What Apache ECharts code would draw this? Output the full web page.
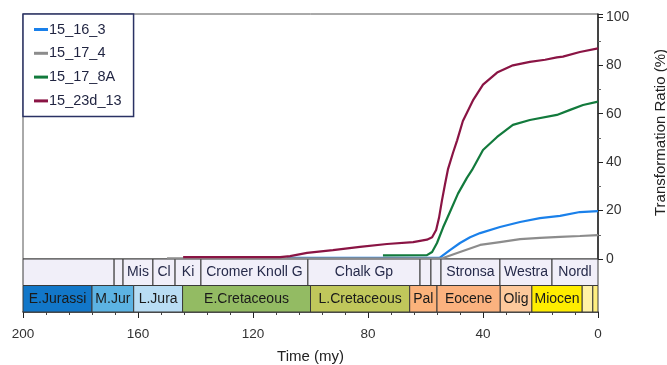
<!DOCTYPE html>
<html>
<head>
<meta charset="utf-8">
<script src="https://cdn.jsdelivr.net/npm/echarts@6/dist/echarts.min.js"></script>
<style>
  html, body { margin: 0; padding: 0; background: #ffffff; }
  #chart { width: 667px; height: 365px; }
</style>
</head>
<body>
<div id="chart"></div>
<script>
// Kerogen transformation ratio vs. geological time for four wells,
// with a lithostratigraphy strip and a chronostratigraphy strip below.

const wellNames = ['15_16_3', '15_17_4', '15_17_8A', '15_23d_13'];

// Time (my) and transformation ratio (%) for each well
const time_15_16_3 = [108.2, 55.0, 51.5, 48.0, 44.5, 41.0, 34.1, 27.1, 20.2, 13.2, 6.3, 0];
const tr_15_16_3   = [0.5, 0.6, 3.7, 6.6, 9.0, 10.7, 13.2, 15.3, 16.9, 17.8, 19.4, 19.8];

const time_15_17_4 = [149.9, 53.9, 48.0, 41.0, 34.1, 27.1, 20.2, 13.2, 6.3, 0];
const tr_15_17_4   = [0.3, 0.4, 2.9, 5.8, 7.0, 8.2, 8.7, 9.1, 9.5, 9.9];

const time_15_17_8A = [74.8, 59.5, 57.7, 56.0, 53.9, 51.5, 48.7, 45.6, 43.8, 40.0, 35.1, 29.6, 23.7, 14.3, 9.7, 5.2, 0];
const tr_15_17_8A   = [1.5, 1.6, 2.9, 6.6, 13.0, 19.4, 27.0, 33.5, 36.8, 45.0, 50.4, 55.4, 57.4, 59.5, 61.6, 63.6, 65.0];

const time_15_23d_13 = [144.3, 110.6, 107.1, 101.2, 92.2, 82.8, 73.4, 64.3, 59.5, 57.7, 56.3, 55.3, 54.3, 53.2, 52.2, 50.4, 49.0, 47.0, 43.5, 40.0, 35.1, 29.6, 23.7, 18.4, 14.3, 12.2, 6.3, 0];
const tr_15_23d_13   = [0.8, 0.8, 1.2, 2.5, 3.7, 5.0, 6.2, 7.0, 8.0, 9.0, 12.0, 17.0, 24.0, 31.0, 37.0, 44.0, 49.0, 57.0, 65.5, 72.0, 77.0, 80.0, 81.4, 82.3, 83.3, 83.6, 85.5, 87.0];

// Lithostratigraphic units (boundaries in my, oldest first)
const formationBounds = [200, 168.3, 165.2, 154.8, 147.1, 138.1, 100.9, 61.9, 58.1, 54.6, 34.1, 16, 0];
const formationNames  = ['', '', 'Mis', 'Cl', 'Ki', 'Cromer Knoll G', 'Chalk Gp', '', '', 'Stronsa', 'Westra', 'Nordl'];

// Chronostratigraphic units (boundaries in my, oldest first)
const ageBounds = [200, 176, 161.5, 144.5, 100, 65.5, 56, 34, 23, 5.5, 1.8, 0];
const ageNames  = ['E.Jurassi', 'M.Jur', 'L.Jura', 'E.Cretaceous', 'L.Cretaceous', 'Pal', 'Eocene', 'Olig', 'Miocen', '', ''];

// Time axis ticks and TR axis ticks
const timeTicks = { min: 0, max: 200, step: 40 };
const trTicks   = { min: 0, max: 100, step: 20 };

// Styling
const lineColors = ['#1a80ea', '#8c8c8c', '#127a3c', '#8a1444'];
const ageColors  = ['#1277c9', '#5cb3e3', '#b9ddf4', '#93bb63', '#c0c75b', '#fbb27b', '#fbb27f', '#fdc99c', '#ffed00', '#fff2a6', '#ffef80'];
const formationFill = '#f1eff9';
const FONT = '"Liberation Sans", Arial, sans-serif';

function pairs(t, v) { return t.map((x, i) => [x, v[i]]); }

const cells = [];
for (let i = 0; i < formationNames.length; i++) {
  cells.push({ value: [formationBounds[i], formationBounds[i + 1], 1], name: formationNames[i], fill: formationFill, tcolor: '#262a4a' });
}
for (let i = 0; i < ageNames.length; i++) {
  cells.push({ value: [ageBounds[i], ageBounds[i + 1], 0], name: ageNames[i], fill: ageColors[i], tcolor: '#1a1a1a' });
}

function renderCell(params, api) {
  const c = cells[params.dataIndex];
  const a = api.coord([api.value(0), api.value(2) + 1]);
  const b = api.coord([api.value(1), api.value(2)]);
  const x = Math.min(a[0], b[0]), y = Math.min(a[1], b[1]);
  const w = Math.abs(b[0] - a[0]), h = Math.abs(b[1] - a[1]);
  return {
    type: 'rect',
    shape: { x: x, y: y, width: w, height: h },
    style: { fill: c.fill, stroke: '#3a3a3a', lineWidth: 1 },
    textContent: {
      style: { text: c.name, fill: c.tcolor, font: '14px ' + FONT, align: 'center', verticalAlign: 'middle' }
    },
    textConfig: { position: 'inside' }
  };
}

const wellTimes = [time_15_16_3, time_15_17_4, time_15_17_8A, time_15_23d_13];
const wellTR    = [tr_15_16_3, tr_15_17_4, tr_15_17_8A, tr_15_23d_13];

const lineSeries = wellNames.map((n, i) => ({
  name: n,
  type: 'line',
  xAxisIndex: 0,
  yAxisIndex: 0,
  data: pairs(wellTimes[i], wellTR[i]),
  showSymbol: false,
  symbol: 'none',
  smooth: false,
  lineStyle: { width: 2.2, color: lineColors[i] },
  itemStyle: { color: lineColors[i] },
  z: 3 + i
}));

const chart = echarts.init(document.getElementById('chart'), null, { renderer: 'canvas' });

chart.setOption({
  backgroundColor: '#ffffff',
  animation: false,
  textStyle: { fontFamily: FONT },
  legend: {
    data: wellNames,
    orient: 'vertical',
    left: 23,
    top: 14,
    padding: [8, 12, 8, 11],
    itemGap: 8.8,
    itemWidth: 14,
    itemHeight: 3,
    icon: 'rect',
    backgroundColor: '#ffffff',
    borderColor: '#2a3264',
    borderWidth: 1.5,
    borderRadius: 0,
    textStyle: { fontSize: 14.5, color: '#1f2340', fontFamily: FONT, padding: [0, 0, 0, -4] }
  },
  grid: [
    { left: 23, right: 69, top: 14, height: 245, outerBoundsMode: 'none', containLabel: false, show: true, borderColor: '#555555', borderWidth: 1, backgroundColor: 'transparent' },
    { left: 23, right: 69, top: 259, height: 53, outerBoundsMode: 'none', containLabel: false }
  ],
  xAxis: [
    {
      gridIndex: 0, type: 'value', inverse: true,
      min: timeTicks.min, max: timeTicks.max, interval: timeTicks.step,
      show: false
    },
    {
      gridIndex: 1, type: 'value', inverse: true,
      min: timeTicks.min, max: timeTicks.max, interval: timeTicks.step,
      position: 'bottom',
      name: 'Time (my)', nameLocation: 'middle', nameGap: 37,
      nameTextStyle: { fontSize: 15, color: '#222222', fontFamily: FONT },
      axisLine: { show: true, lineStyle: { color: '#222222', width: 1.5 } },
      axisTick: { show: true, length: 6, lineStyle: { color: '#222222' } },
      minorTick: { show: true, splitNumber: 5, length: 3, lineStyle: { color: '#444444' } },
      splitLine: { show: false },
      axisLabel: { fontSize: 13.5, color: '#333333', margin: 15, fontFamily: FONT }
    }
  ],
  yAxis: [
    {
      gridIndex: 0, type: 'value', position: 'right',
      min: trTicks.min, max: 101.2, interval: trTicks.step,
      name: 'Transformation Ratio (%)', nameLocation: 'middle', nameGap: 55, nameRotate: 90,
      nameTextStyle: { fontSize: 15, color: '#222222', fontFamily: FONT, padding: [0, 0, 0, 8] },
      axisLine: { show: true, lineStyle: { color: '#222222', width: 1.5 } },
      axisTick: { show: true, length: 5, lineStyle: { color: '#222222' } },
      minorTick: { show: true, splitNumber: 2, length: 3, lineStyle: { color: '#666666' } },
      splitLine: { show: false },
      axisLabel: {
        fontSize: 14, color: '#333333', margin: 8, fontFamily: FONT,
        formatter: v => (v % trTicks.step === 0 && v <= trTicks.max) ? String(v) : ''
      }
    },
    {
      gridIndex: 1, type: 'value', min: 0, max: 2, show: false
    }
  ],
  series: [
    {
      type: 'custom',
      xAxisIndex: 1,
      yAxisIndex: 1,
      renderItem: renderCell,
      encode: { x: [0, 1], y: 2 },
      data: cells.map(c => c.value),
      silent: true,
      z: 2
    }
  ].concat(lineSeries)
});
</script>
</body>
</html>
